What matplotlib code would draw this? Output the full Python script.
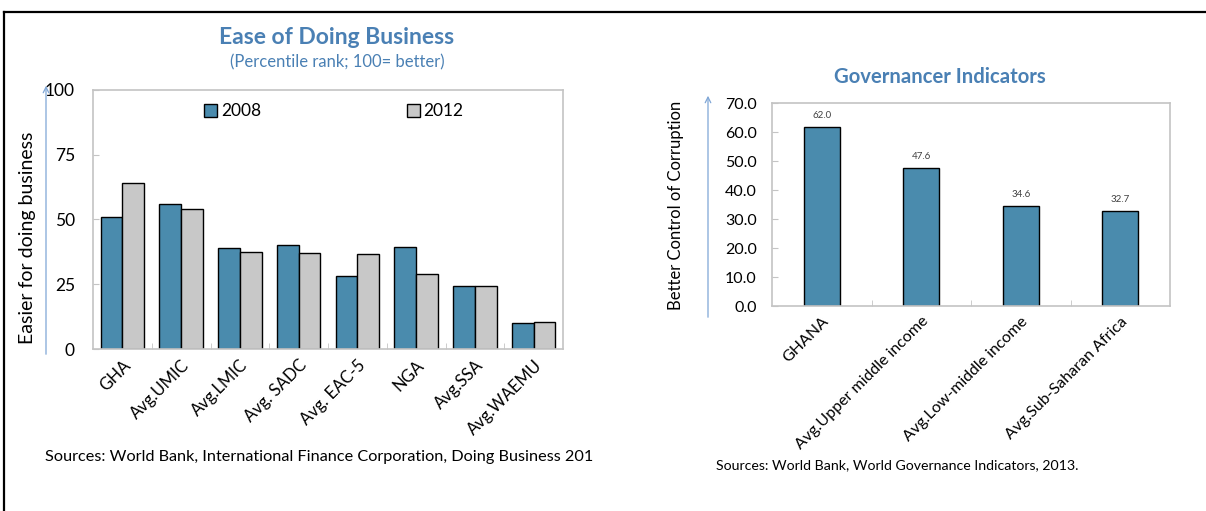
import matplotlib
matplotlib.use("Agg")
import matplotlib.pyplot as plt
from matplotlib.lines import Line2D
from matplotlib.patches import FancyArrowPatch
import numpy as np

plt.rcParams['font.family'] = ['Lato', 'DejaVu Sans']

# Ease of Doing Business (percentile rank)
biz_categories = ["GHA", "Avg.UMIC", "Avg.LMIC", "Avg. SADC", "Avg. EAC-5", "NGA", "Avg.SSA", "Avg.WAEMU"]
biz_2008 = [51, 56, 39, 40, 28, 39.5, 24.5, 10]
biz_2012 = [64, 54, 37.5, 37, 36.5, 29, 24.5, 10.5]
biz_yticks = [0, 25, 50, 75, 100]

# Control of corruption
gov_categories = ["GHANA", "Avg.Upper middle income", "Avg.Low-middle income", "Avg.Sub-Saharan Africa"]
gov_values = [62.0, 47.6, 34.6, 32.7]
gov_yticks = [0, 10, 20, 30, 40, 50, 60, 70]

BLUE = "#4A8BAD"
GREY = "#C8C8C8"
TITLE = "#4A80B4"
FRAME = "#C4C4C4"
ARROW = "#7FA6D6"

W, H = 1206, 511
fig = plt.figure(figsize=(W / 100, H / 100), dpi=100)


def fx(px):
    return px / W


def fy(py):
    return 1 - py / H


def style_axes(ax):
    for s in ax.spines.values():
        s.set_color(FRAME)
        s.set_linewidth(1.2)
    ax.tick_params(axis='both', which='both', direction='in', color=FRAME, length=4)
    ax.tick_params(axis='x', which='major', length=0)


# ---- Left panel ----
ax1 = fig.add_axes([fx(93), fy(349), fx(563) - fx(93), fy(90) - fy(349)])
x = np.arange(len(biz_categories))
bw = 0.37
ax1.bar(x - bw / 2, biz_2008, bw, color=BLUE, edgecolor="black", linewidth=1.0, label="2008")
ax1.bar(x + bw / 2, biz_2012, bw, color=GREY, edgecolor="black", linewidth=1.0, label="2012")
ax1.set_xlim(-0.5, len(biz_categories) - 0.5)
ax1.set_ylim(0, 100)
ax1.set_yticks(biz_yticks)
ax1.set_yticklabels([str(v) for v in biz_yticks], fontsize=12.5)
ax1.set_xticks(x)
ax1.set_xticklabels(biz_categories, rotation=45, ha='right', rotation_mode='anchor', fontsize=12)
ax1.set_xticks(np.arange(0.5, len(biz_categories) - 0.5, 1), minor=True)
style_axes(ax1)
ax1.tick_params(axis='y', pad=13)
ax1.tick_params(axis='x', pad=6)
ax1.legend(ncol=2, frameon=False, loc='upper left', bbox_to_anchor=(0.222, 0.975),
           borderaxespad=0, handlelength=0.75, handleheight=0.75, handletextpad=0.2,
           columnspacing=8.4, fontsize=12.5)

fig.text(fx(337), fy(37), "Ease of Doing Business", ha='center', va='center',
         fontsize=16.5, fontweight='bold', color=TITLE)
fig.text(fx(337), fy(62), "(Percentile rank; 100= better)", ha='center', va='center',
         fontsize=12, color=TITLE)
fig.text(fx(28), fy(238), "Easier for doing business", rotation=90, ha='center', va='center',
         fontsize=14)
fig.text(fx(45), fy(457), "Sources: World Bank, International Finance Corporation, Doing Business 201",
         ha='left', va='center', fontsize=11.7)
fig.add_artist(FancyArrowPatch((fx(46), fy(357)), (fx(46), fy(83)),
               transform=fig.transFigure, arrowstyle='->,head_length=4,head_width=2',
               color=ARROW, linewidth=0.9, mutation_scale=1))

# ---- Right panel ----
ax2 = fig.add_axes([fx(772), fy(306), fx(1170) - fx(772), fy(103.5) - fy(306)])
x2 = np.arange(len(gov_categories))
ax2.bar(x2, gov_values, 0.36, color=BLUE, edgecolor="black", linewidth=1.0)
for xi, v in zip(x2, gov_values):
    ax2.annotate(f"{v:.1f}", (xi, v), xytext=(0, 5), textcoords='offset points',
                 ha='center', va='bottom', fontsize=7, color="#404040")
ax2.set_xlim(-0.5, len(gov_categories) - 0.5)
ax2.set_ylim(0, 70)
ax2.set_yticks(gov_yticks)
ax2.set_yticklabels([f"{v:.1f}" for v in gov_yticks], fontsize=11.5)
ax2.set_xticks(x2)
ax2.set_xticklabels(gov_categories, rotation=45, ha='right', rotation_mode='anchor', fontsize=11.5)
ax2.set_xticks(np.arange(0.5, len(gov_categories) - 0.5, 1), minor=True)
style_axes(ax2)
ax2.tick_params(axis='y', pad=11)
ax2.tick_params(axis='x', pad=6)

fig.text(fx(940), fy(77), "Governancer Indicators", ha='center', va='center',
         fontsize=14.6, fontweight='bold', color=TITLE)
fig.text(fx(676), fy(205), "Better Control of Corruption", rotation=90, ha='center', va='center',
         fontsize=12)
fig.text(fx(716), fy(465), "Sources: World Bank, World Governance Indicators, 2013.",
         ha='left', va='center', fontsize=10.2)
fig.add_artist(FancyArrowPatch((fx(708), fy(320)), (fx(708), fy(93)),
               transform=fig.transFigure, arrowstyle='->,head_length=4,head_width=2',
               color=ARROW, linewidth=0.9, mutation_scale=1))

# ---- Outer frame (top and left edges) ----
fig.add_artist(Line2D([fx(4), 1.0], [fy(12), fy(12)], transform=fig.transFigure,
                      color='black', linewidth=1.6))
fig.add_artist(Line2D([fx(4), fx(4)], [fy(12), 0.0], transform=fig.transFigure,
                      color='black', linewidth=1.6))

fig.savefig("out.png", dpi=100)
